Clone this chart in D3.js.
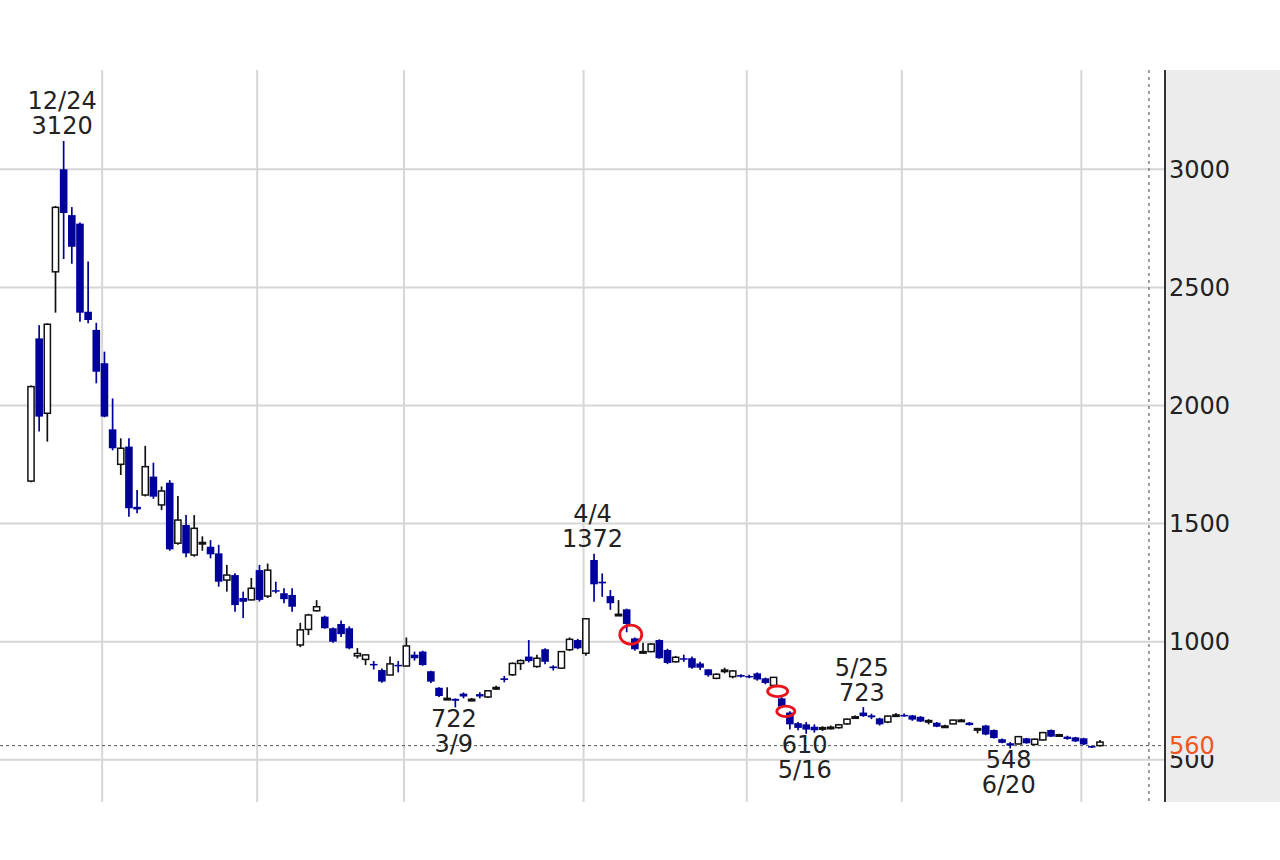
<!DOCTYPE html>
<html>
<head>
<meta charset="utf-8">
<script src="https://cdn.jsdelivr.net/npm/d3@7"></script>
<style>
  html, body { margin: 0; padding: 0; background: #ffffff; }
  svg { display: block; }
  text { font-family: "DejaVu Sans", Verdana, sans-serif; }
</style>
</head>
<body>
<script>
// ---------- DATA ----------
const dates = [
  "12/20","12/21","12/22","12/23","12/24","12/27","12/28","12/29","12/30",
  "1/4","1/5","1/6","1/7","1/11","1/12","1/13","1/14","1/17","1/18","1/19","1/20","1/21","1/24","1/25","1/26","1/27","1/28","1/31",
  "2/1","2/2","2/3","2/4","2/7","2/8","2/9","2/10","2/14","2/15","2/16","2/17","2/18","2/21","2/22","2/24","2/25","2/28",
  "3/1","3/2","3/3","3/4","3/7","3/8","3/9","3/10","3/11","3/14","3/15","3/16","3/17","3/18","3/22","3/23","3/24","3/25","3/28","3/29","3/30","3/31",
  "4/1","4/4","4/5","4/6","4/7","4/8","4/11","4/12","4/13","4/14","4/15","4/18","4/19","4/20","4/21","4/22","4/25","4/26","4/27","4/28",
  "5/2","5/6","5/9","5/10","5/11","5/12","5/13","5/16","5/17","5/18","5/19","5/20","5/23","5/24","5/25","5/26","5/27","5/30","5/31",
  "6/1","6/2","6/3","6/6","6/7","6/8","6/9","6/10","6/13","6/14","6/15","6/16","6/17","6/20","6/21","6/22","6/23","6/24","6/27","6/28","6/29","6/30",
  "7/1","7/4","7/5"
];
const open = [
  1680,2284,1967,2566,3000,2806,2770,2397,2320,
  2179,1899,1751,1826,1571,1621,1699,1579,1673,1417,1494,1367,1415,1402,1374,1261,1282,1185,1177,
  1303,1193,1218,1205,1198,986,1052,1131,1106,1057,1075,1057,940,925,906,880,859,902,
  897,945,958,875,805,757,758,780,750,778,766,800,845,860,908,937,895,968,895,888,966,1007,
  951,1346,1254,1193,1112,1137,1014,952,958,1007,965,915,930,930,908,883,845,875,852,859,
  855,866,845,815,760,700,655,650,640,632,634,636,652,680,700,688,675,660,688,
  690,688,682,665,657,640,652,665,657,630,645,626,587,570,567,591,565,584,626,605,598,595,
  591,558,560
];
const high = [
  2085,2340,2348,2845,3120,2840,2775,2610,2350,
  2228,2030,1861,1861,1642,1829,1758,1657,1684,1617,1536,1536,1446,1430,1410,1325,1290,1212,1270,
  1325,1331,1254,1226,1226,1080,1118,1176,1110,1060,1090,1065,973,946,918,887,937,918,
  1018,958,962,877,807,807,760,785,762,786,795,814,855,912,925,1007,945,972,900,960,1018,1012,
  1099,1372,1289,1219,1176,1140,1018,995,994,1010,970,940,945,937,915,883,866,890,880,862,
  860,870,848,850,765,705,660,660,650,642,645,652,675,688,723,695,678,688,698,
  696,690,685,672,660,648,670,672,660,635,648,628,590,575,600,593,590,618,628,610,602,597,
  593,560,584
];
const low = [
  1675,1890,1847,2393,2620,2600,2355,2348,2094,
  1950,1810,1706,1529,1544,1615,1605,1557,1385,1410,1357,1360,1385,1353,1233,1212,1127,1100,1175,
  1170,1185,1205,1163,1127,977,1028,1128,1055,995,1020,968,929,901,882,826,858,870,
  895,920,898,825,766,755,722,760,748,760,762,795,828,855,880,912,890,904,878,885,960,968,
  940,1169,1190,1135,1110,1040,962,950,955,928,905,912,915,885,880,852,841,866,845,848,
  845,835,820,810,720,628,625,610,615,622,628,632,648,676,682,672,645,655,682,
  682,665,660,650,638,638,650,660,645,612,604,590,570,548,565,568,563,582,596,600,585,575,
  562,550,556
];
const close = [
  2080,1953,2344,2839,2815,2672,2393,2362,2143,
  1953,1819,1819,1565,1560,1741,1614,1638,1391,1515,1374,1480,1420,1370,1254,1282,1155,1169,1226,
  1177,1303,1212,1180,1148,1050,1113,1148,1057,1000,1032,972,950,944,900,831,906,896,
  982,930,901,831,770,760,750,768,756,768,792,806,838,908,920,918,930,915,888,958,1010,972,
  1097,1243,1247,1163,1116,1075,968,958,990,930,910,934,925,890,890,858,862,880,876,852,
  850,840,825,849,725,650,635,628,625,636,638,648,672,682,685,680,650,685,690,
  688,670,662,666,640,643,668,668,647,632,607,592,572,560,598,570,587,615,598,606,588,578,
  565,554,575
];
const yTicks = [500, 1000, 1500, 2000, 2500, 3000];
const highLabelDates = ["12/24", "4/4", "5/25"];
const highLabelValues = [3120, 1372, 723];
const lowLabelDates = ["3/9", "5/16", "6/20"];
const lowLabelValues = [722, 610, 548];
const gapAfterDates = ["4/8", "5/10", "5/11"]; // down-gap between this day and the next
const gapValues = [1030, 790, 705];
const lastPrice = 560;
const markerIndex = 137; // dotted vertical marker (future slot)

// ---------- LAYOUT ----------
const W = 1280, H = 860;
const plotLeft = 0, plotRight = 1165, plotTop = 70, plotBottom = 802;
const BLUE = "#00009a";

const svg = d3.select("body").append("svg").attr("width", W).attr("height", H);
svg.append("rect").attr("width", W).attr("height", H).attr("fill", "#ffffff");

const x = d3.scaleLinear().domain([-3.8, 138.97]).range([plotLeft, plotRight]);
const y = d3.scaleLinear().domain([321.3, 3420.4]).range([plotBottom, plotTop]);
const idx = d => dates.indexOf(d);

// right panel
svg.append("rect").attr("x", plotRight + 1).attr("y", plotTop)
  .attr("width", W - plotRight - 1).attr("height", plotBottom - plotTop).attr("fill", "#ececec");

// horizontal grid
svg.append("g").selectAll("line").data(yTicks).join("line")
  .attr("x1", plotLeft).attr("x2", plotRight)
  .attr("y1", d => y(d)).attr("y2", d => y(d))
  .attr("stroke", "#d6d6d6").attr("stroke-width", 2);

// vertical grid at month starts
const monthStarts = dates.map((d, i) => i).filter(i => i > 0 && dates[i].split("/")[0] !== dates[i - 1].split("/")[0]);
svg.append("g").selectAll("line").data(monthStarts).join("line")
  .attr("x1", i => x(i) - 2.3).attr("x2", i => x(i) - 2.3)
  .attr("y1", plotTop).attr("y2", plotBottom)
  .attr("stroke", "#d6d6d6").attr("stroke-width", 2);

// dotted marker
svg.append("line")
  .attr("x1", x(markerIndex)).attr("x2", x(markerIndex))
  .attr("y1", plotTop).attr("y2", plotBottom)
  .attr("stroke", "#808080").attr("stroke-width", 1.5).attr("stroke-dasharray", "3,4");

// last price dashed line
svg.append("line")
  .attr("x1", plotLeft).attr("x2", plotRight)
  .attr("y1", y(lastPrice)).attr("y2", y(lastPrice))
  .attr("stroke", "#555").attr("stroke-width", 1).attr("stroke-dasharray", "3,3");

// candles
const candles = dates.map((d, i) => ({ i, o: open[i], h: high[i], l: low[i], c: close[i], up: close[i] >= open[i] }));
const cg = svg.append("g");
cg.selectAll("line").data(candles).join("line")
  .attr("x1", d => x(d.i)).attr("x2", d => x(d.i))
  .attr("y1", d => y(d.h)).attr("y2", d => y(d.l))
  .attr("stroke", d => d.up ? "#111" : BLUE).attr("stroke-width", 1.7);
cg.selectAll("rect").data(candles).join("rect")
  .attr("x", d => d.up ? x(d.i) - 3.1 : x(d.i) - 3.8)
  .attr("width", d => d.up ? 6.2 : 7.6)
  .attr("y", d => y(Math.max(d.o, d.c)))
  .attr("height", d => Math.max(1.5, y(Math.min(d.o, d.c)) - y(Math.max(d.o, d.c))))
  .attr("fill", d => d.up ? "#ffffff" : BLUE)
  .attr("stroke", d => d.up ? "#111" : "none")
  .attr("stroke-width", 1.5);

// gap circles
const gapSizes = [[11, 9.5], [10, 5.3], [9, 5.2]];
svg.append("g").selectAll("ellipse").data(gapValues).join("ellipse")
  .attr("cx", (v, k) => (x(idx(gapAfterDates[k])) + x(idx(gapAfterDates[k]) + 1)) / 2)
  .attr("cy", v => y(v))
  .attr("rx", (v, k) => gapSizes[k][0]).attr("ry", (v, k) => gapSizes[k][1])
  .attr("fill", "none").attr("stroke", "#e8141c").attr("stroke-width", 2.8);

// high / low labels
const lg = svg.append("g").attr("font-size", 24).attr("fill", "#222").attr("text-anchor", "middle");
highLabelDates.forEach((d, k) => {
  const cx = x(idx(d)) - 1.5, yy = y(highLabelValues[k]);
  lg.append("text").attr("x", cx).attr("y", yy - 31.5).text(d);
  lg.append("text").attr("x", cx).attr("y", yy - 6.5).text(highLabelValues[k]);
});
lowLabelDates.forEach((d, k) => {
  const cx = x(idx(d)) - 1.5, yy = y(lowLabelValues[k]);
  lg.append("text").attr("x", cx).attr("y", yy + 19.5).text(lowLabelValues[k]);
  lg.append("text").attr("x", cx).attr("y", yy + 44.5).text(d);
});

// axis line
svg.append("line").attr("x1", plotRight).attr("x2", plotRight)
  .attr("y1", plotTop).attr("y2", plotBottom).attr("stroke", "#000").attr("stroke-width", 1.6);

// tick labels
svg.append("g").selectAll("text").data(yTicks).join("text")
  .attr("x", plotRight + 4).attr("y", d => y(d) + 8.5)
  .attr("font-size", 24).attr("fill", "#222").text(d => d);

// last price label
svg.append("rect").attr("x", plotRight + 1).attr("y", y(lastPrice) - 13)
  .attr("width", W - plotRight - 1).attr("height", 22.5).attr("fill", "#ececec");
svg.append("text").attr("x", plotRight + 4).attr("y", y(lastPrice) + 8)
  .attr("font-size", 24).attr("fill", "#f0561e").text(lastPrice);
</script>
</body>
</html>
